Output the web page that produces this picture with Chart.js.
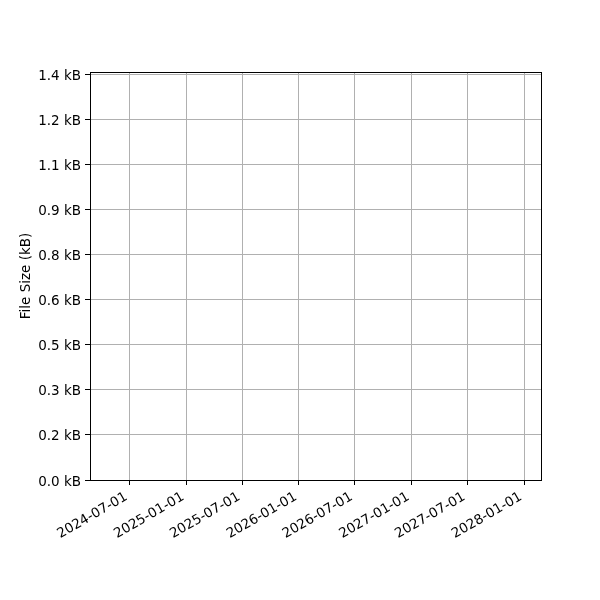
<!DOCTYPE html>
<html>
<head>
<meta charset="utf-8">
<script src="https://cdn.jsdelivr.net/npm/chart.js@4"></script>
<style>
  html, body { margin: 0; padding: 0; background: #fff; }
  #wrap { width: 600px; height: 600px; }
</style>
</head>
<body>
<div id="wrap"><canvas id="myChart" width="600" height="600"></canvas></div>
<script>
// x ticks (dates) and their labels
var xTickDates = ['2024-07-01', '2025-01-01', '2025-07-01', '2026-01-01',
                  '2026-07-01', '2027-01-01', '2027-07-01', '2028-01-01'];
// y ticks in bytes, with the labels shown on the axis
var yTickValues = [0, 150, 300, 450, 600, 750, 900, 1050, 1200, 1350];
var yTickLabels = ['0.0 kB', '0.2 kB', '0.3 kB', '0.5 kB', '0.6 kB',
                   '0.8 kB', '0.9 kB', '1.1 kB', '1.2 kB', '1.4 kB'];
// axis limits
var xMinDate = '2024-02-24';
var xMaxDate = '2028-02-25';
var yMin = 0;
var yMax = 1358;
// series (empty in the reference)
var seriesDates = [];
var seriesSizes = [];

function toMs(s) {
  var p = s.split('-');
  return Date.UTC(+p[0], +p[1] - 1, +p[2]);
}
function fmtDate(ms) {
  var d = new Date(ms);
  var m = d.getUTCMonth() + 1, day = d.getUTCDate();
  return d.getUTCFullYear() + '-' + (m < 10 ? '0' : '') + m + '-' + (day < 10 ? '0' : '') + day;
}

var points = seriesDates.map(function(d, i) { return { x: toMs(d), y: seriesSizes[i] }; });

// draw the black frame around the plot area
var framePlugin = {
  id: 'frame',
  afterDraw: function(chart) {
    var a = chart.chartArea, ctx = chart.ctx;
    ctx.save();
    ctx.strokeStyle = '#000';
    ctx.lineWidth = 1;
    ctx.strokeRect(Math.round(a.left) + 0.5, Math.round(a.top) + 0.5,
                   Math.round(a.right - a.left), Math.round(a.bottom - a.top));
    ctx.restore();
  }
};

Chart.defaults.font.family = 'DejaVu Sans';
Chart.defaults.font.size = 13.5;
Chart.defaults.color = '#000';

var ctx = document.getElementById('myChart').getContext('2d');
var myChart = new Chart(ctx, {
  type: 'line',
  data: {
    datasets: [{
      label: 'File Size',
      data: points,
      borderColor: '#1f77b4',
      backgroundColor: '#1f77b4',
      pointRadius: 0
    }]
  },
  options: {
    responsive: false,
    animation: false,
    layout: { padding: { top: 72, right: 59, left: 0, bottom: 0 } },
    plugins: {
      legend: { display: false },
      tooltip: { enabled: false }
    },
    scales: {
      x: {
        type: 'linear',
        min: toMs(xMinDate),
        max: toMs(xMaxDate),
        afterBuildTicks: function(axis) {
          axis.ticks = xTickDates.map(function(d) { return { value: toMs(d) }; });
        },
        afterFit: function(axis) { axis.height = 120; },
        ticks: {
          autoSkip: false,
          minRotation: 30,
          maxRotation: 30,
          padding: 4,
          labelOffset: -3,
          callback: function(v) { return fmtDate(v); }
        },
        grid: { color: '#b0b0b0', lineWidth: 1, tickColor: '#000', tickLength: 5 },
        border: { color: '#000', width: 1 }
      },
      y: {
        type: 'linear',
        min: yMin,
        max: yMax,
        afterBuildTicks: function(axis) {
          axis.ticks = yTickValues.map(function(v) { return { value: v }; });
        },
        afterFit: function(axis) { axis.width = 90; },
        ticks: {
          autoSkip: false,
          padding: 4,
          labelOffset: 2,
          callback: function(v) {
            var i = yTickValues.indexOf(v);
            return i >= 0 ? yTickLabels[i] : '';
          }
        },
        title: {
          display: true,
          text: 'File Size (kB)',
          padding: { top: 18, bottom: 0 }
        },
        grid: { color: '#b0b0b0', lineWidth: 1, tickColor: '#000', tickLength: 5 },
        border: { color: '#000', width: 1 }
      }
    }
  },
  plugins: [framePlugin]
});
</script>
</body>
</html>
